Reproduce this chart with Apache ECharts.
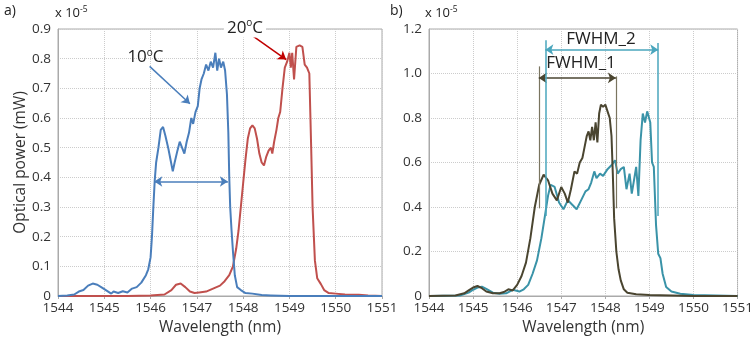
<!DOCTYPE html>
<html>
<head>
<meta charset="utf-8">
<script src="https://cdn.jsdelivr.net/npm/echarts@6/dist/echarts.min.js"></script>
<style>
  html, body { margin: 0; padding: 0; background: #fff; }
  #chart { width: 756px; height: 342px; }
</style>
</head>
<body>
<div id="chart"></div>
<script>
// values in units of 1e-5 mW
var wl10 = [1544.0, 1544.2, 1544.35, 1544.45, 1544.55, 1544.65, 1544.75, 1544.85, 1544.95, 1545.05, 1545.15, 1545.2, 1545.3, 1545.4, 1545.5, 1545.6, 1545.7, 1545.8, 1545.9, 1545.95, 1546.0, 1546.03, 1546.06, 1546.09, 1546.12, 1546.17, 1546.22, 1546.27, 1546.32, 1546.38, 1546.43, 1546.48, 1546.52, 1546.58, 1546.63, 1546.68, 1546.73, 1546.78, 1546.83, 1546.88, 1546.92, 1546.97, 1547.02, 1547.06, 1547.1, 1547.15, 1547.2, 1547.25, 1547.3, 1547.35, 1547.4, 1547.44, 1547.48, 1547.52, 1547.57, 1547.61, 1547.65, 1547.68, 1547.7, 1547.72, 1547.75, 1547.78, 1547.82, 1547.87, 1547.95, 1548.05, 1548.2, 1548.4, 1548.6, 1549.0, 1551.0];
var pw10 = [0, 0.002, 0.005, 0.015, 0.02, 0.035, 0.042, 0.038, 0.028, 0.018, 0.008, 0.015, 0.01, 0.016, 0.012, 0.025, 0.03, 0.045, 0.07, 0.09, 0.13, 0.2, 0.3, 0.39, 0.45, 0.5, 0.56, 0.57, 0.54, 0.5, 0.46, 0.42, 0.45, 0.49, 0.52, 0.5, 0.48, 0.52, 0.55, 0.6, 0.58, 0.62, 0.64, 0.7, 0.73, 0.75, 0.78, 0.76, 0.79, 0.77, 0.82, 0.76, 0.8, 0.77, 0.79, 0.76, 0.68, 0.55, 0.4, 0.3, 0.22, 0.15, 0.07, 0.03, 0.02, 0.01, 0.008, 0.003, 0.002, 0, 0];

var wl20 = [1544.0, 1545.5, 1546.0, 1546.3, 1546.45, 1546.55, 1546.65, 1546.75, 1546.85, 1546.95, 1547.05, 1547.2, 1547.35, 1547.5, 1547.6, 1547.7, 1547.78, 1547.85, 1547.9, 1547.95, 1548.0, 1548.05, 1548.1, 1548.15, 1548.2, 1548.25, 1548.3, 1548.35, 1548.4, 1548.45, 1548.5, 1548.55, 1548.6, 1548.63, 1548.67, 1548.72, 1548.76, 1548.8, 1548.85, 1548.9, 1548.95, 1549.0, 1549.03, 1549.06, 1549.1, 1549.15, 1549.22, 1549.28, 1549.33, 1549.38, 1549.43, 1549.47, 1549.5, 1549.55, 1549.6, 1549.68, 1549.75, 1549.85, 1550.0, 1550.2, 1550.5, 1550.7, 1551.0];
var pw20 = [0, 0, 0.002, 0.005, 0.02, 0.038, 0.042, 0.03, 0.015, 0.01, 0.012, 0.015, 0.025, 0.035, 0.05, 0.07, 0.1, 0.16, 0.22, 0.3, 0.38, 0.46, 0.53, 0.565, 0.575, 0.565, 0.53, 0.48, 0.45, 0.44, 0.47, 0.49, 0.5, 0.48, 0.52, 0.56, 0.6, 0.62, 0.7, 0.77, 0.79, 0.82, 0.77, 0.82, 0.73, 0.84, 0.845, 0.84, 0.78, 0.77, 0.75, 0.5, 0.3, 0.12, 0.06, 0.04, 0.02, 0.01, 0.008, 0.005, 0.004, 0.002, 0];

var wlF1 = [1544.0, 1544.6, 1544.8, 1544.9, 1545.0, 1545.1, 1545.2, 1545.3, 1545.45, 1545.6, 1545.7, 1545.8, 1545.9, 1546.0, 1546.1, 1546.2, 1546.3, 1546.4, 1546.5, 1546.6, 1546.7, 1546.8, 1546.9, 1547.0, 1547.08, 1547.15, 1547.22, 1547.3, 1547.36, 1547.42, 1547.48, 1547.52, 1547.58, 1547.62, 1547.66, 1547.7, 1547.74, 1547.78, 1547.82, 1547.86, 1547.9, 1547.95, 1548.0, 1548.05, 1548.1, 1548.14, 1548.17, 1548.2, 1548.25, 1548.3, 1548.35, 1548.42, 1548.5, 1548.7, 1549.0, 1549.5, 1550.0, 1551.0];
var pwF1 = [0, 0.002, 0.012, 0.025, 0.038, 0.045, 0.035, 0.02, 0.012, 0.012, 0.018, 0.03, 0.025, 0.05, 0.09, 0.15, 0.26, 0.4, 0.5, 0.545, 0.52, 0.46, 0.43, 0.49, 0.46, 0.42, 0.48, 0.56, 0.55, 0.6, 0.62, 0.66, 0.72, 0.74, 0.7, 0.76, 0.7, 0.78, 0.69, 0.82, 0.86, 0.85, 0.86, 0.83, 0.8, 0.72, 0.55, 0.35, 0.2, 0.12, 0.07, 0.03, 0.015, 0.008, 0.004, 0.002, 0, 0];

var wlF2 = [1544.0, 1544.7, 1544.9, 1545.0, 1545.1, 1545.2, 1545.3, 1545.45, 1545.6, 1545.75, 1545.9, 1546.05, 1546.15, 1546.25, 1546.35, 1546.45, 1546.55, 1546.63, 1546.7, 1546.76, 1546.85, 1546.95, 1547.05, 1547.15, 1547.25, 1547.35, 1547.45, 1547.55, 1547.62, 1547.68, 1547.75, 1547.8, 1547.88, 1547.95, 1548.05, 1548.15, 1548.22, 1548.28, 1548.35, 1548.42, 1548.48, 1548.55, 1548.6, 1548.65, 1548.7, 1548.75, 1548.8, 1548.85, 1548.9, 1548.95, 1549.02, 1549.06, 1549.1, 1549.15, 1549.2, 1549.25, 1549.3, 1549.38, 1549.5, 1549.7, 1550.0, 1551.0];
var pwF2 = [0, 0.002, 0.015, 0.028, 0.038, 0.042, 0.032, 0.015, 0.01, 0.012, 0.028, 0.02, 0.03, 0.05, 0.1, 0.16, 0.26, 0.36, 0.45, 0.5, 0.49, 0.42, 0.39, 0.43, 0.41, 0.39, 0.43, 0.47, 0.48, 0.51, 0.56, 0.53, 0.55, 0.54, 0.57, 0.59, 0.61, 0.55, 0.57, 0.58, 0.48, 0.55, 0.46, 0.52, 0.58, 0.45, 0.7, 0.82, 0.78, 0.83, 0.78, 0.6, 0.58, 0.32, 0.19, 0.17, 0.1, 0.04, 0.02, 0.01, 0.005, 0];

function zip(xs, ys) {
  return xs.map(function (x, i) { return [x, ys[i]]; });
}

var FONT = 'Open Sans';
var txt = '#333';
var blue = '#4a7ebb', red = '#c0504d', dark = '#4a4530', teal = '#3a93a8';

function xAxis(idx) {
  return {
    type: 'value', gridIndex: idx, min: 1544, max: 1551, interval: 1,
    name: 'Wavelength (nm)', nameLocation: 'middle', nameGap: 24,
    nameTextStyle: { fontFamily: FONT, fontSize: 15.5, color: txt },
    axisLine: { lineStyle: { color: '#aaa' } },
    axisTick: { show: true, length: 3, lineStyle: { color: '#aaa' } },
    axisLabel: { fontFamily: FONT, fontSize: 13.5, color: txt, margin: 5,
      formatter: function (v) { return String(v); } },
    splitLine: { show: true, lineStyle: { color: '#ccc', type: 'dotted' } }
  };
}
function yAxis(idx, max, interval, name) {
  return {
    type: 'value', gridIndex: idx, min: 0, max: max, interval: interval,
    name: name, nameLocation: 'middle', nameGap: 29,
    nameTextStyle: { fontFamily: FONT, fontSize: 15.5, color: txt },
    axisLine: { show: true, lineStyle: { color: '#aaa' } },
    axisTick: { show: false },
    axisLabel: {
      fontFamily: FONT, fontSize: 13.5, color: txt, margin: 7,
      formatter: function (v) { return v === 0 ? '0' : v.toFixed(1); }
    },
    splitLine: { show: true, lineStyle: { color: '#ccc', type: 'dotted' } }
  };
}

function seg(a, b, color, width, symbols) {
  return [{ coord: a, symbol: symbols[0], lineStyle: { color: color, width: width, type: 'solid' } },
          { coord: b, symbol: symbols[1] }];
}

var supRich = {
  n: { fontFamily: FONT, fontSize: 17, color: '#222' },
  s: { fontFamily: FONT, fontSize: 10, color: '#222', verticalAlign: 'top', padding: [0, 0, 9, 0] }
};

function textPoint(coord, text, bg, offset) {
  return {
    coord: coord, symbol: 'circle', symbolSize: 0,
    label: {
      show: true, position: 'inside', formatter: text, rich: supRich,
      backgroundColor: bg || 'transparent', padding: [0, 3], offset: offset || [0, 0]
    }
  };
}

var supStyle = { n: { fontFamily: FONT, fontSize: 13, fill: '#222' }, s: { fontFamily: FONT, fontSize: 8.5, fill: '#222', verticalAlign: 'top', padding: [0, 0, 8, 0] } };

var chart = echarts.init(document.getElementById('chart'));
chart.setOption({
  backgroundColor: '#fff',
  animation: false,
  grid: [
    { left: 58, right: 374, top: 29, bottom: 46, show: true, borderColor: '#aaa', borderWidth: 1 },
    { left: 429, right: 18, top: 29, bottom: 46, show: true, borderColor: '#aaa', borderWidth: 1 }
  ],
  xAxis: [xAxis(0), xAxis(1)],
  yAxis: [yAxis(0, 0.9, 0.1, 'Optical power (mW)'), yAxis(1, 1.2, 0.2, '')],
  graphic: [
    { type: 'text', left: 4, top: 4, style: { text: 'a)', font: '14px "Open Sans"', fill: '#222' } },
    { type: 'text', left: 390, top: 4, style: { text: 'b)', font: '14px "Open Sans"', fill: '#222' } },
    { type: 'text', left: 55, top: 5, style: { text: '{n|x 10}{s|-5}', rich: supStyle } },
    { type: 'text', left: 425, top: 5, style: { text: '{n|x 10}{s|-5}', rich: supStyle } }
  ],
  series: [
    {
      type: 'line', xAxisIndex: 0, yAxisIndex: 0, data: zip(wl20, pw20),
      showSymbol: false, lineStyle: { color: red, width: 2 }, z: 3,
      markLine: {
        silent: true, label: { show: false }, symbolSize: 8, animation: false,
        data: [seg([1548.22, 0.875], [1548.93, 0.797], '#c00000', 1.5, ['none', 'arrow'])]
      },
      markPoint: { silent: true, data: [textPoint([1548.04, 0.9], '{n|20}{s|o}{n|C}', '#fff', [0, -1])] }
    },
    {
      type: 'line', xAxisIndex: 0, yAxisIndex: 0, data: zip(wl10, pw10),
      showSymbol: false, lineStyle: { color: blue, width: 2 }, z: 4,
      markLine: {
        silent: true, label: { show: false }, symbolSize: 8, animation: false,
        data: [
          seg([1546.08, 0.386], [1547.67, 0.386], blue, 1.5, ['arrow', 'arrow']),
          seg([1545.98, 0.774], [1546.85, 0.648], blue, 1.5, ['none', 'arrow'])
        ]
      },
      markPoint: { silent: true, data: [textPoint([1545.89, 0.805], '{n|10}{s|o}{n|C}')] }
    },
    {
      type: 'line', xAxisIndex: 1, yAxisIndex: 1, data: zip(wlF1, pwF1),
      showSymbol: false, lineStyle: { color: dark, width: 2 }, z: 4,
      markLine: {
        silent: true, label: { show: false }, symbolSize: 8, animation: false,
        data: [
          seg([1546.49, 0.394], [1546.49, 1.032], '#7a7560', 1.2, ['none', 'none']),
          seg([1548.24, 0.394], [1548.24, 0.987], '#7a7560', 1.2, ['none', 'none']),
          seg([1546.49, 0.98], [1548.24, 0.98], dark, 1.5, ['arrow', 'arrow'])
        ]
      },
      markPoint: { silent: true, data: [textPoint([1547.45, 1.047], '{n|FWHM_1}')] }
    },
    {
      type: 'line', xAxisIndex: 1, yAxisIndex: 1, data: zip(wlF2, pwF2),
      showSymbol: false, lineStyle: { color: teal, width: 2 }, z: 3,
      markLine: {
        silent: true, label: { show: false }, symbolSize: 8, animation: false,
        data: [
          seg([1546.64, 0.36], [1546.64, 1.149], '#4aa6bd', 1.5, ['none', 'none']),
          seg([1549.2, 0.36], [1549.2, 1.137], '#4aa6bd', 1.5, ['none', 'none']),
          seg([1546.64, 1.107], [1549.2, 1.107], '#4aa6bd', 1.5, ['arrow', 'arrow'])
        ]
      },
      markPoint: { silent: true, data: [textPoint([1547.9, 1.155], '{n|FWHM_2}')] }
    }
  ]
});
</script>
</body>
</html>
